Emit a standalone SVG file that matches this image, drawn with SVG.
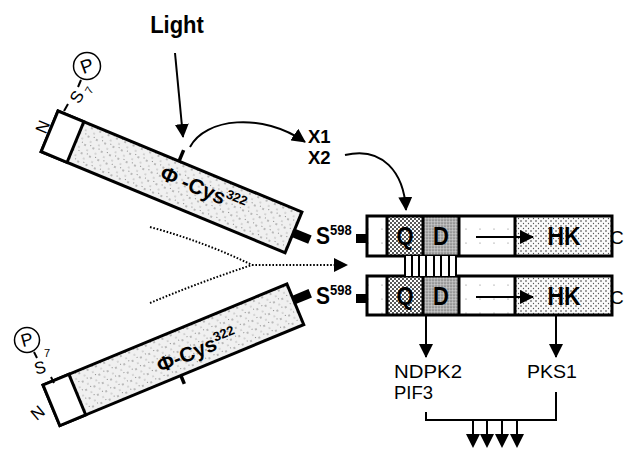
<svg xmlns="http://www.w3.org/2000/svg" width="625" height="450" viewBox="0 0 625 450">
<style>
.t{font-family:"Liberation Sans",Arial,sans-serif;fill:#000}
.b{font-weight:bold}
.ol{stroke:#000;stroke-width:3}
.ln{stroke:#000;stroke-width:2;fill:none}
.dot{stroke:#000;stroke-width:2;fill:none;stroke-dasharray:1.6 1.8}
</style>
<defs>
<pattern id="rodDots" width="9" height="9" patternUnits="userSpaceOnUse">
<rect width="9" height="9" fill="#f0f0f0"/>
<circle cx="2" cy="3" r="0.65" fill="#555"/>
<circle cx="6" cy="7" r="0.6" fill="#777"/>
<circle cx="7.5" cy="1.5" r="0.5" fill="#666"/>
</pattern>
<pattern id="qDots" width="4" height="4" patternUnits="userSpaceOnUse">
<rect width="4" height="4" fill="#fff"/>
<circle cx="1" cy="1" r="0.95" fill="#111"/>
<circle cx="3" cy="3" r="0.95" fill="#111"/>
</pattern>
<pattern id="dDots" width="3" height="3" patternUnits="userSpaceOnUse">
<rect width="3" height="3" fill="#b5b5b5"/>
<circle cx="1" cy="1" r="0.6" fill="#444"/>
<circle cx="2.4" cy="2.2" r="0.4" fill="#eee"/>
</pattern>
<pattern id="hkDots" width="5" height="5" patternUnits="userSpaceOnUse">
<rect width="5" height="5" fill="#fafafa"/>
<circle cx="1" cy="1" r="0.8" fill="#333"/>
<circle cx="3.5" cy="3.5" r="0.65" fill="#555"/>
</pattern>
<pattern id="wDots" width="14" height="14" patternUnits="userSpaceOnUse">
<rect width="14" height="14" fill="#fff"/>
<circle cx="4" cy="5" r="0.6" fill="#777"/>
</pattern>
<marker id="ah" markerWidth="14" markerHeight="14" refX="13" refY="7" orient="auto" markerUnits="userSpaceOnUse">
<path d="M0,0 L14,7 L0,14 z" fill="#000"/>
</marker>
</defs>

<text class="t b" font-size="22" text-anchor="middle" transform="translate(177,33) scale(1,1.12)">Light</text>
<text class="t b" font-size="18.5" x="308" y="143">X1</text>
<text class="t b" font-size="18.5" x="308" y="164">X2</text>

<g id="rod-top">
<g transform="translate(58,111) rotate(22.5)">
<rect x="0" y="0" width="264" height="44" fill="url(#rodDots)" class="ol"/>
<rect x="0" y="0" width="28" height="44" fill="#fff" class="ol"/>
<rect x="264" y="18" width="18" height="9" fill="#000"/>
<line x1="131" y1="0" x2="131" y2="-12" stroke="#000" stroke-width="3.5"/>
<text class="t b" x="119" y="24" font-size="21">Φ -Cys<tspan font-size="13" dy="-8">322</tspan></text>
</g>
<line x1="64" y1="111" x2="68" y2="104" class="ln" stroke-width="1.5"/>
<text class="t" x="77" y="97" font-size="17" text-anchor="middle" dominant-baseline="central" transform="rotate(-60 77 97)">S</text>
<text class="t" x="89" y="90" font-size="11" text-anchor="middle" dominant-baseline="central" transform="rotate(-60 89 90)">7</text>
<line x1="78" y1="87" x2="81" y2="80" class="ln" stroke-width="1.5"/>
<circle cx="87" cy="66" r="13.5" fill="#fff" stroke="#000" stroke-width="1.5"/>
<text class="t" x="87" y="66" font-size="19" text-anchor="middle" dominant-baseline="central" transform="rotate(-20 87 66)">P</text>
<text class="t" x="43" y="127" font-size="17" text-anchor="middle" dominant-baseline="central" transform="rotate(-67.5 43 127)">N</text>
<text class="t b" font-size="21" transform="translate(316,244) scale(1,1.12)">S<tspan font-size="13" dy="-8">598</tspan></text>
</g>

<g id="rod-bottom">
<g transform="translate(43,385) rotate(-22.5)">
<rect x="0" y="0" width="264" height="44" fill="url(#rodDots)" class="ol"/>
<rect x="0" y="0" width="28" height="44" fill="#fff" class="ol"/>
<rect x="264" y="13" width="18" height="9" fill="#000"/>
<line x1="131" y1="44" x2="131" y2="53" stroke="#000" stroke-width="3.5"/>
<text class="t b" x="113" y="34" font-size="21">Φ-Cys<tspan font-size="13" dy="-8">322</tspan></text>
</g>
<circle cx="27" cy="340" r="12.5" fill="#fff" stroke="#000" stroke-width="1.5"/>
<text class="t" x="27" y="340" font-size="18" text-anchor="middle" dominant-baseline="central" transform="rotate(-15 27 340)">P</text>
<line x1="34" y1="352" x2="37" y2="358" class="ln" stroke-width="1.5"/>
<text class="t" x="40" y="368" font-size="17" text-anchor="middle" dominant-baseline="central" transform="rotate(-15 40 368)">S</text>
<text class="t" x="47" y="353" font-size="11" text-anchor="middle" dominant-baseline="central">7</text>
<line x1="51" y1="377" x2="54" y2="383" class="ln" stroke-width="1.5"/>
<text class="t" x="38" y="413" font-size="17" text-anchor="middle" dominant-baseline="central" transform="rotate(-40 38 413)">N</text>
<text class="t b" font-size="21" transform="translate(316,304) scale(1,1.12)">S<tspan font-size="13" dy="-8">598</tspan></text>
</g>

<g id="box-top">
<rect x="356" y="234" width="11" height="9" fill="#000"/>
<rect x="367" y="216" width="20" height="40" fill="url(#wDots)"/>
<rect x="387" y="216" width="36" height="40" fill="url(#qDots)"/>
<rect x="423" y="216" width="36" height="40" fill="url(#dDots)"/>
<rect x="459" y="216" width="56" height="40" fill="url(#wDots)"/>
<rect x="515" y="216" width="97" height="40" fill="url(#hkDots)"/>
<rect x="367" y="216" width="245" height="40" fill="none" class="ol"/>
<path d="M387,216V256M423,216V256M459,216V256M515,216V256" class="ol"/>
<text class="t b" font-size="22" text-anchor="middle" transform="translate(405,245) scale(1,1.15)">Q</text>
<text class="t b" font-size="22" text-anchor="middle" transform="translate(441,245) scale(1,1.15)">D</text>
<text class="t b" font-size="23" text-anchor="middle" transform="translate(564,245) scale(1,1.15)">HK</text>
<line x1="476" y1="237" x2="533" y2="237" class="ln" marker-end="url(#ah)"/>
<text class="t" x="610" y="244" font-size="19">C</text>
</g>

<g id="box-bottom">
<rect x="356" y="294" width="11" height="9" fill="#000"/>
<rect x="367" y="276" width="20" height="39" fill="url(#wDots)"/>
<rect x="387" y="276" width="36" height="39" fill="url(#qDots)"/>
<rect x="423" y="276" width="36" height="39" fill="url(#dDots)"/>
<rect x="459" y="276" width="56" height="39" fill="url(#wDots)"/>
<rect x="515" y="276" width="97" height="39" fill="url(#hkDots)"/>
<rect x="367" y="276" width="245" height="39" fill="none" class="ol"/>
<path d="M387,276V315M423,276V315M459,276V315M515,276V315" class="ol"/>
<text class="t b" font-size="22" text-anchor="middle" transform="translate(405,305) scale(1,1.15)">Q</text>
<text class="t b" font-size="22" text-anchor="middle" transform="translate(441,305) scale(1,1.15)">D</text>
<text class="t b" font-size="23" text-anchor="middle" transform="translate(564,305) scale(1,1.15)">HK</text>
<line x1="476" y1="297" x2="533" y2="297" class="ln" marker-end="url(#ah)"/>
<text class="t" x="610" y="304" font-size="19">C</text>
</g>

<g id="dimer-link">
<rect x="404" y="256" width="53" height="20" fill="#fff"/>
<path d="M405,256V276M412,256V276M419,256V276M426,256V276M434,256V276M441,256V276M449,256V276M456,256V276" stroke="#000" stroke-width="2"/>
</g>

<g id="outputs">
<text class="t" font-size="18.5" x="394" y="378" textLength="68" lengthAdjust="spacingAndGlyphs">NDPK2</text>
<text class="t" font-size="18.5" x="394" y="399">PIF3</text>
<text class="t" font-size="18.5" x="527" y="378" textLength="50" lengthAdjust="spacingAndGlyphs">PKS1</text>
</g>

<g id="connectors">
<line x1="175" y1="53" x2="183" y2="137" class="ln" marker-end="url(#ah)"/>
<path d="M190,147 C205,118 262,112 305,142" class="ln" marker-end="url(#ah)"/>
<path d="M345,155 C382,146 404,172 406,210" class="ln" marker-end="url(#ah)"/>
<path d="M150,227 Q205,242 252,265" class="dot"/>
<path d="M150,303 Q200,282 252,265" class="dot"/>
<line x1="252" y1="265" x2="347" y2="265" class="dot" marker-end="url(#ah)"/>
<line x1="426" y1="316" x2="426" y2="357" class="ln" marker-end="url(#ah)"/>
<line x1="556" y1="316" x2="556" y2="357" class="ln" marker-end="url(#ah)"/>
<polyline points="426,412 426,420 556,420 556,392" class="ln"/>
<path d="M473,420V440M487,420V440M502,420V440M517,420V440" class="ln"/>
<path d="M466,434H480L473,448zM480,434H494L487,448zM495,434H509L502,448zM510,434H524L517,448z" fill="#000"/>
</g>
</svg>
